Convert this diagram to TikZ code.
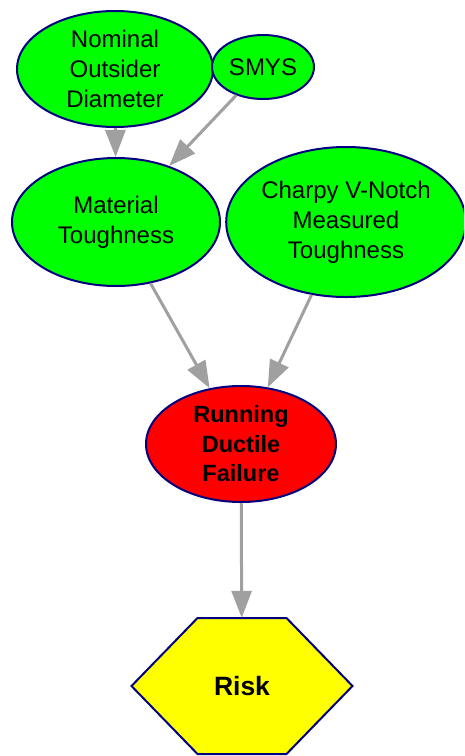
\documentclass[tikz,border=0pt]{standalone}
\usepackage{fontspec}
\setmainfont{Liberation Sans}
\usetikzlibrary{arrows.meta,calc,shapes.geometric}
\definecolor{nodegreen}{RGB}{0,255,0}
\definecolor{nodered}{RGB}{255,0,0}
\definecolor{nodeyellow}{RGB}{255,255,0}
\definecolor{edgenavy}{RGB}{0,0,128}
\definecolor{linkgray}{RGB}{160,160,160}
\tikzset{
  chance/.style={ellipse, draw=edgenavy, line width=2pt, fill=nodegreen,
    inner sep=0pt, align=center, font=\fontsize{24}{30}\selectfont},
  target/.style={chance, fill=nodered, font=\fontsize{23.5}{29.5}\selectfont\bfseries},
  link/.style={draw=linkgray, line width=3pt,
    -{Triangle[width=20pt,length=27pt]}},
  hexfill/.style={draw=edgenavy, line width=2pt, fill=nodeyellow, line join=miter},
}
\begin{document}
\begin{tikzpicture}[x=1pt,y=-1pt]
  \useasboundingbox (0,0) rectangle (464,756);
  \clip (0,0) rectangle (464,756);

  % belief network nodes
  \node[chance, minimum width=196pt, minimum height=116pt] (nod) at (115,69)
    {Nominal\\Outsider\\Diameter};
  \node[chance, minimum width=102pt, minimum height=64pt] (smys) at (263,67) {SMYS};
  \node[chance, minimum width=208pt, minimum height=128pt] (mat) at (116,222)
    {Material\\Toughness};
  \node[chance, minimum width=236pt, minimum height=150pt] (cvn) at (346,222)
    {Charpy V-Notch\\Measured\\Toughness};
  \node[target, minimum width=190pt, minimum height=116pt] (rdf) at (241,444)
    {Running\\Ductile\\Failure};

  % hexagonal value node
  \coordinate (rk) at (242,686);
  \draw[hexfill] ($(rk)+(-110.5,0)$) -- ($(rk)+(-44.5,-68)$) -- ($(rk)+(44.5,-68)$)
    -- ($(rk)+(110.5,0)$) -- ($(rk)+(44.5,68)$) -- ($(rk)+(-44.5,68)$) -- cycle;
  \node[minimum width=221pt, minimum height=136pt, inner sep=0pt,
    font=\fontsize{26.5}{30}\selectfont\bfseries] (risk) at (rk) {Risk};

  % influence links
  \draw[link] (nod) -- (mat);
  \draw[link] (smys) -- (mat);
  \draw[link] (mat) -- (rdf);
  \draw[link] (cvn) -- (rdf);
  \draw[link] (rdf) -- (risk);
\end{tikzpicture}
\end{document}
